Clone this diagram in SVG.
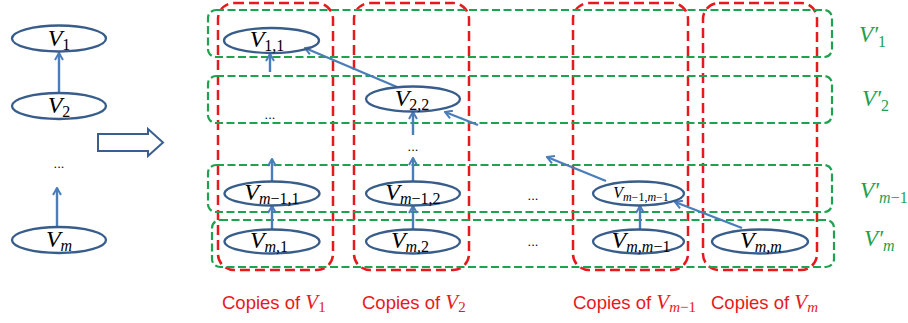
<svg xmlns="http://www.w3.org/2000/svg" width="908" height="323" viewBox="0 0 908 323">
<style>
.col{fill:none;stroke:#e8191c;stroke-width:2.5;stroke-dasharray:10 5}
.row{fill:none;stroke:#1ea24f;stroke-width:2.2;stroke-dasharray:8 3.5}
.el{fill:none;stroke:#385d8a;stroke-width:2.3}
.ar{fill:none;stroke:#4a7ebb;stroke-width:2.4;marker-end:url(#ah)}
.n{font-family:"Liberation Serif",serif;font-style:italic;font-size:24px;fill:#000;text-anchor:middle}
.s{font-size:16px}
.u{font-style:normal}
.dots{font-family:"Liberation Sans",sans-serif;font-size:13px;fill:#000;text-anchor:middle}
.gl{font-family:"Liberation Serif",serif;font-style:italic;font-size:23px;fill:#1ea24f}
.rl{font-family:"Liberation Sans",sans-serif;font-size:18.5px;fill:#e8191c}
.rv{font-family:"Liberation Serif",serif;font-style:italic;font-size:21px}
</style>
<defs>
<marker id="ah" viewBox="0 0 10 10" refX="8.5" refY="5" markerWidth="10" markerHeight="10" orient="auto" markerUnits="userSpaceOnUse">
<path d="M1.5,1 L8.5,5 L1.5,9" fill="none" stroke="#4a7ebb" stroke-width="2"/>
</marker>
</defs>

<g id="columns">
<rect id="col1" class="col" x="218" y="3" width="115" height="267" rx="16"/>
<rect id="col2" class="col" x="354" y="3" width="115" height="267" rx="16"/>
<rect id="col3" class="col" x="573" y="3" width="115" height="267" rx="16"/>
<rect id="col4" class="col" x="703" y="3" width="114" height="267" rx="16"/>
</g>
<g id="rows">
<rect id="row1" class="row" x="208" y="10" width="624" height="47" rx="8"/>
<rect id="row2" class="row" x="208" y="76" width="624" height="47" rx="8"/>
<rect id="row3" class="row" x="208" y="165" width="624" height="47" rx="8"/>
<rect id="row4" class="row" x="212" y="220" width="622" height="47" rx="8"/>
</g>

<g id="bigarrow">
<polygon points="98,134 148,134 148,129 163,142.5 148,156 148,151 98,151" fill="#fff" stroke="#3a5f8f" stroke-width="2"/>
</g>

<g id="connectors">
<line class="ar" x1="59" y1="93" x2="59" y2="53"/>
<line class="ar" x1="57" y1="227" x2="57" y2="188"/>
<line class="ar" x1="272" y1="230" x2="272" y2="206"/>
<line class="ar" x1="272" y1="182" x2="272" y2="159"/>
<line class="ar" x1="270" y1="72" x2="270" y2="54"/>
<line class="ar" x1="413" y1="230" x2="413" y2="206"/>
<line class="ar" x1="413" y1="182" x2="413" y2="158"/>
<line class="ar" x1="413" y1="135" x2="413" y2="112"/>
<line class="ar" x1="397" y1="87" x2="305" y2="48"/>
<line class="ar" x1="478" y1="125" x2="445" y2="112"/>
<line class="ar" x1="606" y1="181" x2="547" y2="157"/>
<line class="ar" x1="742" y1="228" x2="675" y2="202"/>
<line class="ar" x1="640" y1="230" x2="640" y2="206"/>
</g>

<g id="n_V1"><ellipse class="el" cx="59" cy="38.5" rx="47" ry="13"/><text class="n" x="59" y="46">V<tspan class="s u" dy="4">1</tspan></text></g>
<g id="n_V2"><ellipse class="el" cx="59" cy="106" rx="47" ry="13"/><text class="n" x="59" y="113">V<tspan class="s u" dy="4">2</tspan></text></g>
<g id="n_Vdots"><text class="dots" x="59" y="168">...</text></g>
<g id="n_Vm"><ellipse class="el" cx="59" cy="240" rx="47" ry="13"/><text class="n" x="59" y="247">V<tspan class="s" dy="4">m</tspan></text></g>

<g id="n_V11"><ellipse class="el" cx="271.5" cy="40.5" rx="47.5" ry="12.5"/><text class="n" x="267" y="47">V<tspan class="s u" dy="4">1,1</tspan></text></g>
<g id="n_dots1"><text class="dots" x="270" y="119">...</text></g>
<g id="n_Vm11"><ellipse class="el" cx="272" cy="193.5" rx="47.5" ry="12"/><text class="n" x="272" y="200">V<tspan class="s" dy="4">m</tspan><tspan class="s u">−1,1</tspan></text></g>
<g id="n_Vm1"><ellipse class="el" cx="272" cy="241.5" rx="47.5" ry="12"/><text class="n" x="269" y="248">V<tspan class="s" dy="4">m</tspan><tspan class="s u">,1</tspan></text></g>

<g id="n_V22"><ellipse class="el" cx="413" cy="99" rx="47" ry="12.5"/><text class="n" x="412" y="106">V<tspan class="s u" dy="4">2,2</tspan></text></g>
<g id="n_dots2"><text class="dots" x="413" y="151">...</text></g>
<g id="n_Vm12"><ellipse class="el" cx="413" cy="193.5" rx="47" ry="12"/><text class="n" x="413" y="200">V<tspan class="s" dy="4">m</tspan><tspan class="s u">−1,2</tspan></text></g>
<g id="n_Vm2"><ellipse class="el" cx="413" cy="241.5" rx="47" ry="12"/><text class="n" x="410" y="248">V<tspan class="s" dy="4">m</tspan><tspan class="s u">,2</tspan></text></g>

<g id="n_dots3"><text class="dots" x="533" y="200">...</text></g>
<g id="n_dots4"><text class="dots" x="533" y="246">...</text></g>

<g id="n_Vm1m1"><ellipse class="el" cx="638.5" cy="193.5" rx="45.5" ry="12"/><text class="n" x="641" y="198" style="font-size:16px">V<tspan style="font-size:12px" dy="3">m</tspan><tspan style="font-size:12px;font-style:normal">−1,</tspan><tspan style="font-size:12px">m</tspan><tspan style="font-size:12px;font-style:normal">−1</tspan></text></g>
<g id="n_Vmm1"><ellipse class="el" cx="638.5" cy="241.5" rx="45.5" ry="12"/><text class="n" x="641" y="248">V<tspan class="s" dy="4">m</tspan><tspan class="s u">,</tspan><tspan class="s">m</tspan><tspan class="s u">−1</tspan></text></g>
<g id="n_Vmm"><ellipse class="el" cx="760" cy="241.5" rx="48" ry="12"/><text class="n" x="761" y="248">V<tspan class="s" dy="4">m</tspan><tspan class="s u">,</tspan><tspan class="s">m</tspan></text></g>

<g id="labels_rows">
<text class="gl" x="859" y="42">V′<tspan class="s u" dy="5">1</tspan></text>
<text class="gl" x="862" y="106">V′<tspan class="s u" dy="5">2</tspan></text>
<text class="gl" x="860" y="198">V′<tspan class="s" dy="5">m</tspan><tspan class="s u">−1</tspan></text>
<text class="gl" x="864" y="246">V′<tspan class="s" dy="5">m</tspan></text>
</g>

<g id="labels_cols">
<text class="rl" x="222" y="309">Copies of <tspan class="rv">V</tspan><tspan class="rv" style="font-size:15px;font-style:normal" dy="3">1</tspan></text>
<text class="rl" x="362" y="309">Copies of <tspan class="rv">V</tspan><tspan class="rv" style="font-size:15px;font-style:normal" dy="3">2</tspan></text>
<text class="rl" x="573" y="309">Copies of <tspan class="rv">V</tspan><tspan class="rv" style="font-size:15px" dy="3">m</tspan><tspan class="rv" style="font-size:15px;font-style:normal">−1</tspan></text>
<text class="rl" x="711" y="309">Copies of <tspan class="rv">V</tspan><tspan class="rv" style="font-size:15px" dy="3">m</tspan></text>
</g>
</svg>
